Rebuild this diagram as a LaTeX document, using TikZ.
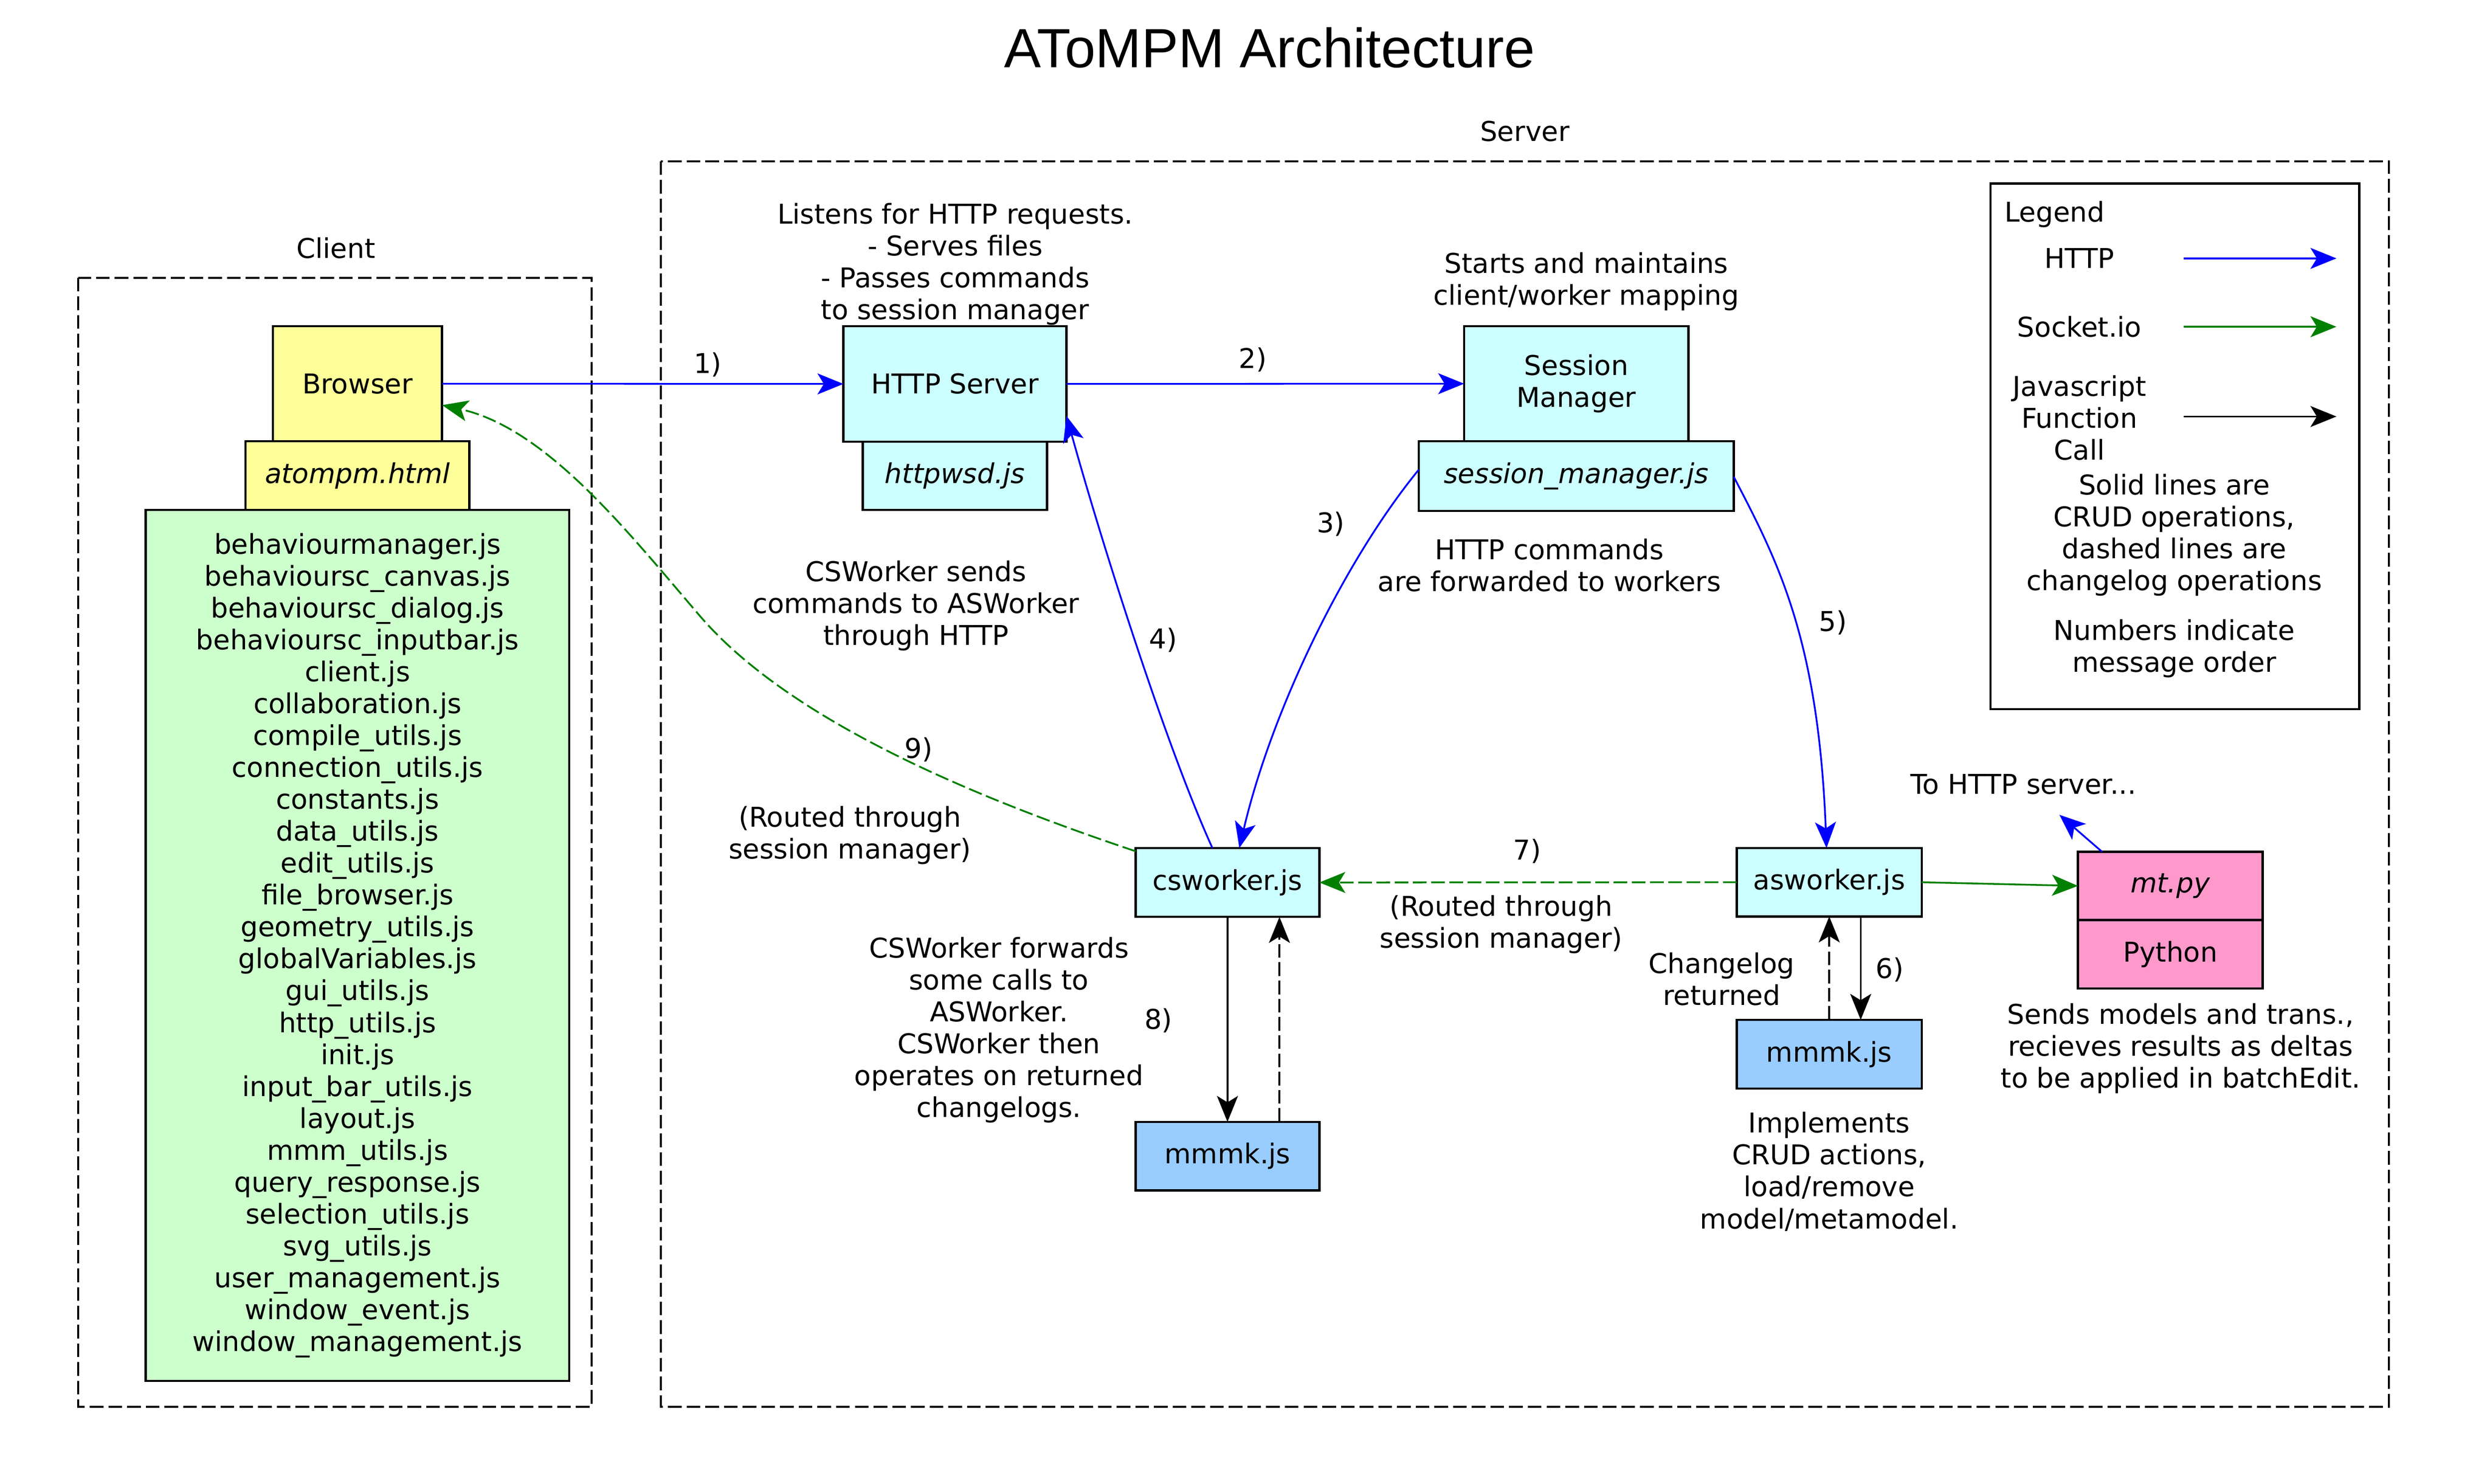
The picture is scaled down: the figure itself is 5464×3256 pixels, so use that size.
\documentclass[tikz,border=0pt]{standalone}
\usepackage{fontspec}
\setmainfont{DejaVu Sans}
\newfontfamily\titlefont{Liberation Sans}
\usepackage{tikz}
\usetikzlibrary{arrows.meta,positioning}
\definecolor{browsercol}{HTML}{FFFF99}
\definecolor{filecol}{HTML}{CCFFCC}
\definecolor{servcol}{HTML}{CCFFFF}
\definecolor{modelcol}{HTML}{99CCFF}
\definecolor{pycol}{HTML}{FF99CC}
\definecolor{sockgreen}{HTML}{008000}
\tikzset{comp/.style={draw, line width=1.4pt, inner sep=0pt, outer sep=0pt, align=center}}
\tikzset{cluster/.style={draw, line width=1.3pt, dash pattern=on 3mm off 1.1mm}}
\tikzset{tip/.style={-{Stealth[length=5.7mm, width=4.6mm, inset=1.4mm]}, line width=1.1pt}}
\tikzset{httpline/.style={tip, blue}}
\tikzset{sockline/.style={tip, sockgreen}}
\tikzset{callline/.style={tip, black}}
\tikzset{clog/.style={dash pattern=on 3mm off 1mm}}

\begin{document}
\begin{tikzpicture}[x=0.01cm, y=-0.01cm, every node/.style={font=\fontsize{17}{19.9}\selectfont, inner sep=0pt}]
    \useasboundingbox (0,0) rectangle (5464,3256);

    \node at (2786,105) (title){\titlefont\fontsize{34.5}{40}\selectfont AToMPM Architecture};

    % client and server clusters
    \draw[cluster] (172,609.5) rectangle (1298,3087);
    \draw[cluster] (1450,354) rectangle (5242,3087);
    \node[anchor=base] at (737,567) (clientlbl){Client};
    \node[anchor=base] at (3346,310) (serverlbl){Server};

    % client side
    \node[comp, fill=browsercol, minimum width=3.71cm, minimum height=2.52cm] at (784.5,842) (browser){Browser};
    \node[comp, fill=browsercol, minimum width=4.91cm, minimum height=1.51cm, anchor=north] at (browser.south) (html){\textit{atompm.html}};
    \node[comp, fill=filecol, minimum width=9.29cm, minimum height=19.1cm, anchor=north] at (html.south) (files){behaviourmanager.js\\behavioursc\_canvas.js\\behavioursc\_dialog.js\\behavioursc\_inputbar.js\\client.js\\collaboration.js\\compile\_utils.js\\connection\_utils.js\\constants.js\\data\_utils.js\\edit\_utils.js\\file\_browser.js\\geometry\_utils.js\\globalVariables.js\\gui\_utils.js\\http\_utils.js\\init.js\\input\_bar\_utils.js\\layout.js\\mmm\_utils.js\\query\_response.js\\selection\_utils.js\\svg\_utils.js\\user\_management.js\\window\_event.js\\window\_management.js};

    % server side
    \node[comp, fill=servcol, minimum width=4.89cm, minimum height=2.53cm] at (2095.5,842.5) (httpsrv){HTTP Server};
    \node[comp, fill=servcol, minimum width=4.04cm, minimum height=1.5cm, anchor=north] at (httpsrv.south) (httpwsd){\textit{httpwsd.js}};
    \node[comp, fill=servcol, minimum width=4.92cm, minimum height=2.52cm] at (3459,842) (sessmgr){Session\\Manager};
    \node[comp, fill=servcol, minimum width=6.91cm, minimum height=1.53cm, anchor=north] at (sessmgr.south) (smjs){\textit{session\_manager.js}};
    \node[comp, fill=servcol, minimum width=4.03cm, minimum height=1.51cm] at (2693.5,1936.5) (csworker){csworker.js};
    \node[comp, fill=servcol, minimum width=4.06cm, minimum height=1.5cm] at (4014,1936) (asworker){asworker.js};
    \node[comp, fill=modelcol, minimum width=4.03cm, minimum height=1.5cm] at (2693.5,2537) (csmmmk){mmmk.js};
    \node[comp, fill=modelcol, minimum width=4.06cm, minimum height=1.51cm] at (4014,2313.5) (asmmmk){mmmk.js};
    \node[comp, fill=pycol, minimum width=4.05cm, minimum height=1.5cm] at (4762.5,1944) (mtpy){\textit{mt.py}};
    \node[comp, fill=pycol, minimum width=4.05cm, minimum height=1.5cm, anchor=north] at (mtpy.south) (python){Python};
    \coordinate (httpout) at (4519,1788);

    % notes
    \node[align=center] at (2096,580) (httpnote){Listens for HTTP requests.\\- Serves files\\- Passes commands\\to session manager};
    \node[align=center] at (3481,618) (smnote){Starts and maintains\\client/worker mapping};
    \node[align=center] at (2010,1329) (csnote){CSWorker sends\\commands to ASWorker\\through HTTP};
    \node[align=center] at (3400,1240) (fwdnote){HTTP commands\\are forwarded to workers};
    \node[align=center] at (1865,1833) (routeleft){(Routed through\\session manager)};
    \node[align=center] at (3294,2029) (routemid){(Routed through\\session manager)};
    \node[align=center] at (2192,2260) (fwdcalls){CSWorker forwards\\some calls to\\ASWorker.\\CSWorker then\\operates on returned\\changelogs.};
    \node[align=center] at (3778,2149) (clret){Changelog\\returned};
    \node[align=center] at (4014,2571) (crud){Implements\\CRUD actions,\\load/remove\\model/metamodel.};
    \node[align=center] at (4785,2301) (pynote){Sends models and trans.,\\recieves results as deltas\\to be applied in batchEdit.};
    \node at (4440,1721) (tohttp){To HTTP server...};

    % message numbers
    \node at (1553,800) (n1){1)};
    \node at (2749,789) (n2){2)};
    \node at (2920,1150) (n3){3)};
    \node at (2552,1405) (n4){4)};
    \node at (4022,1366) (n5){5)};
    \node at (4147,2128) (n6){6)};
    \node at (3351,1868) (n7){7)};
    \node at (2542,2239) (n8){8)};
    \node at (2016,1645) (n9){9)};

    % messages
    \draw[httpline] (browser.east) -- (httpsrv.west);
    \draw[httpline] (httpsrv.east) -- (sessmgr.west);
    \draw[httpline] ([yshift=0.14cm]smjs.west) .. controls (2950,1230) and (2790,1560) .. ([xshift=0.26cm]csworker.north);
    \draw[httpline] ([xshift=-0.33cm]csworker.north) .. controls (2560,1640) and (2420,1200) .. ([yshift=-0.7cm]httpsrv.east);
    \draw[httpline] ([yshift=-0.02cm]smjs.east) .. controls (3900,1230) and (3990,1400) .. ([xshift=-0.06cm]asworker.north);
    \draw[callline] ([xshift=0.69cm]asworker.south) -- ([xshift=0.69cm]asmmmk.north);
    \draw[callline, clog] (asmmmk.north) -- (asworker.south);
    \draw[sockline, clog] (asworker.west) -- (csworker.east);
    \draw[callline] (csworker.south) -- (csmmmk.north);
    \draw[callline, clog] ([xshift=1.14cm]csmmmk.north) -- ([xshift=1.14cm]csworker.south);
    \draw[sockline, clog] ([yshift=-0.07cm]csworker.north west) .. controls (2200,1770) and (1750,1600) .. (1537,1353) .. controls (1380,1170) and (1200,940) .. ([yshift=-0.47cm]browser.east);
    \draw[sockline] (asworker.east) -- (mtpy.west);
    \draw[httpline] ([xshift=-1.5cm]mtpy.north) -- (httpout);

    % legend
    \node[draw, line width=1.4pt, minimum width=8.09cm, minimum height=11.53cm] at (4772.5,979.5) (legend){};
    \node[anchor=west] at (4398,470) (legtitle){Legend};
    \node at (4563,567) (leghttp){HTTP};
    \node at (4563,717) (legsock){Socket.io};
    \node[align=center] at (4563,917) (legcall){Javascript\\Function\\Call};
    \node[align=center] at (4771,1174) (legdash){Solid lines are\\CRUD operations,\\dashed lines are\\changelog operations};
    \node[align=center] at (4771,1423) (legnum){Numbers indicate\\message order};
    \coordinate (hs) at (4792,567);
    \coordinate (he) at (5127,567);
    \coordinate (ss) at (4792,717);
    \coordinate (se) at (5127,717);
    \coordinate (cs) at (4792,914);
    \coordinate (ce) at (5127,914);
    \draw[httpline] (hs) -- (he);
    \draw[sockline] (ss) -- (se);
    \draw[callline] (cs) -- (ce);
\end{tikzpicture}
\end{document}
